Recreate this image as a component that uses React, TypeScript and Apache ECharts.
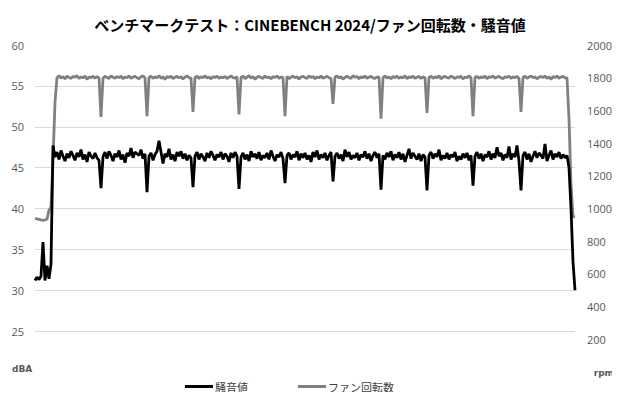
import React, { useEffect, useRef } from "react";
import * as echarts from "echarts";

const TITLE = "ベンチマークテスト：CINEBENCH 2024/ファン回転数・騒音値";
const NOISE_NAME = "騒音値";
const FAN_NAME = "ファン回転数";
const LEFT_UNIT = "dBA";
const RIGHT_UNIT = "rpm";

const noiseValues: number[] = [
  31.2, 31.6, 31.3, 31.7, 35.9, 31.2, 33.0, 31.4, 33.2, 47.7,
  46.3, 46.9, 46.0, 47.1, 46.4, 45.8, 46.7, 46.2, 47.0, 46.5,
  45.9, 46.8, 46.3, 47.2, 46.0, 46.6, 45.7, 46.9, 46.4, 46.1,
  46.8, 46.2, 45.9, 42.5, 46.3, 46.9, 46.1, 47.0, 46.5, 45.8,
  46.7, 46.3, 47.1, 46.0, 46.6, 45.6, 46.8, 46.4, 47.4, 46.2,
  46.9, 46.7, 46.5, 47.2, 46.1, 46.7, 42.0, 46.4, 46.8, 45.9,
  46.6, 47.0, 48.3, 46.9, 45.5, 46.7, 46.3, 47.3, 46.0, 46.6,
  45.8, 46.9, 46.4, 47.0, 46.1, 46.7, 45.9, 46.5, 46.2, 42.6,
  46.4, 46.9, 46.0, 46.7, 46.3, 45.8, 46.8, 46.2, 47.0, 46.5,
  45.9, 46.6, 46.3, 46.9, 46.0, 46.7, 46.4, 45.7, 46.8, 46.2,
  46.9, 46.4, 42.4, 46.3, 46.8, 46.0, 46.6, 45.8, 47.0, 46.3,
  46.7, 46.1, 46.9, 45.9, 46.5, 46.2, 46.8, 46.0, 47.1, 46.4,
  45.8, 46.6, 46.3, 46.9, 46.1, 43.1, 46.5, 46.8, 46.0, 46.6,
  46.3, 47.0, 45.9, 46.7, 46.2, 46.8, 46.0, 46.5, 45.7, 46.9,
  46.3, 47.1, 46.0, 46.6, 46.2, 46.8, 45.9, 46.5, 46.9, 43.3,
  46.4, 46.8, 46.1, 46.6, 45.8, 47.2, 46.3, 46.9, 46.0, 46.5,
  46.2, 46.8, 45.9, 46.6, 46.3, 47.0, 46.1, 46.7, 45.8, 46.5,
  46.9, 46.2, 46.7, 42.3, 46.5, 46.0, 46.8, 46.3, 47.0, 45.9,
  46.6, 46.2, 46.9, 46.0, 46.7, 45.7, 46.5, 47.3, 46.1, 46.8,
  46.4, 46.0, 46.7, 45.8, 46.6, 46.3, 42.2, 46.5, 46.9, 46.1,
  46.7, 46.3, 47.2, 45.9, 46.5, 46.1, 46.8, 46.0, 46.6, 46.3,
  46.9, 45.8, 46.4, 46.0, 46.7, 46.2, 46.8, 45.9, 46.5, 42.8,
  46.4, 46.9, 46.1, 46.7, 45.8, 46.6, 46.3, 47.0, 46.0, 46.7,
  46.2, 47.5, 46.4, 46.8, 45.9, 46.6, 46.2, 47.6, 46.0, 46.7,
  46.3, 47.7, 45.8, 42.2, 46.5, 46.9, 46.0, 46.7, 45.7, 46.4,
  47.0, 46.2, 46.8, 46.5, 46.1, 47.9, 45.8, 46.5, 47.1, 46.0,
  46.7, 46.3, 46.9, 46.1, 46.6, 46.2, 46.5, 45.0, 40.0, 33.5, 30.0,
];

const fanValues: number[] = [
  940, 936, 933, 930, 928, 931, 935, 990, 1010, 1300,
  1650, 1800, 1812, 1798, 1806, 1793, 1810, 1801, 1796, 1808,
  1803, 1812, 1795, 1805, 1799, 1810, 1791, 1804, 1800, 1809,
  1797, 1806, 1800, 1560, 1798, 1808, 1802, 1795, 1811, 1803,
  1797, 1806, 1801, 1810, 1793, 1805, 1799, 1812, 1796, 1804,
  1808, 1800, 1794, 1806, 1811, 1798, 1565, 1803, 1809, 1796,
  1805, 1800, 1812, 1797, 1804, 1790, 1807, 1801, 1810, 1795,
  1803, 1808, 1799, 1806, 1792, 1804, 1811, 1800, 1797, 1590,
  1802, 1809, 1795, 1806, 1800, 1812, 1798, 1804, 1793, 1807,
  1801, 1810, 1796, 1805, 1799, 1808, 1794, 1803, 1811, 1800,
  1797, 1806, 1575, 1801, 1809, 1795, 1804, 1812, 1798, 1806,
  1790, 1803, 1808, 1800, 1796, 1811, 1799, 1805, 1793, 1807,
  1802, 1810, 1797, 1804, 1800, 1565, 1808, 1795, 1803, 1811,
  1799, 1806, 1792, 1804, 1809, 1800, 1796, 1812, 1801, 1807,
  1794, 1805, 1799, 1810, 1797, 1803, 1808, 1800, 1795, 1640,
  1804, 1811, 1798, 1806, 1791, 1802, 1809, 1800, 1796, 1812,
  1803, 1807, 1794, 1805, 1800, 1810, 1797, 1804, 1808, 1799,
  1795, 1806, 1802, 1550, 1800, 1811, 1797, 1805, 1793, 1808,
  1801, 1810, 1796, 1804, 1799, 1812, 1794, 1806, 1800, 1809,
  1797, 1803, 1808, 1795, 1805, 1800, 1585, 1802, 1810, 1796,
  1806, 1799, 1812, 1793, 1804, 1808, 1800, 1797, 1811, 1803,
  1795, 1806, 1801, 1809, 1792, 1804, 1800, 1812, 1798, 1565,
  1803, 1808, 1796, 1805, 1800, 1810, 1794, 1806, 1801, 1811,
  1797, 1804, 1808, 1799, 1793, 1806, 1802, 1810, 1796, 1805,
  1800, 1808, 1795, 1590, 1801, 1809, 1797, 1804, 1811, 1799,
  1806, 1793, 1803, 1808, 1800, 1812, 1796, 1805, 1790, 1807,
  1801, 1810, 1797, 1804, 1808, 1799, 1800, 1550, 1150, 950, 948,
];

const categories: string[] = noiseValues.map((_, i) => String(i));

const LEFT_MIN = 20;
const LEFT_MAX = 60;
const LEFT_STEP = 5;
const RIGHT_MIN = 0;
const RIGHT_MAX = 2000;
const RIGHT_STEP = 200;

const GRID_COLOR = "#d9d9d9";
const LABEL_COLOR = "#595959";
const CJK = "'Noto Sans CJK JP', 'Noto Sans', sans-serif";
const NUM_FONT = "'Open Sans', 'Noto Sans', sans-serif";
const UNIT_FONT = "'DejaVu Sans', sans-serif";

export default function App() {
  const ref = useRef<HTMLDivElement>(null);

  useEffect(() => {
    if (!ref.current) return;
    const chart = echarts.init(ref.current, undefined, { renderer: "svg" });
    const gridColors = [
      "rgba(0,0,0,0)",
      GRID_COLOR, GRID_COLOR, GRID_COLOR, GRID_COLOR, GRID_COLOR, GRID_COLOR, GRID_COLOR,
      "rgba(0,0,0,0)",
    ];
    chart.setOption({
      animation: false,
      backgroundColor: "#ffffff",
      title: {
        text: TITLE,
        left: "center",
        top: 12,
        textStyle: { fontFamily: CJK, fontSize: 15, fontWeight: "bold", color: "#000000" },
      },
      legend: {
        left: 180,
        top: 376,
        itemGap: 50,
        itemWidth: 28,
        itemHeight: 3,
        icon: "rect",
        textStyle: { fontFamily: CJK, fontSize: 11, color: "#404040", padding: [0, 0, 0, -3] },
        data: [NOISE_NAME, FAN_NAME],
      },
      grid: { left: 35, right: 45, top: 45, bottom: 28, containLabel: false },
      xAxis: {
        type: "category",
        data: categories,
        boundaryGap: false,
        axisLine: { show: false },
        axisTick: { show: false },
        axisLabel: { show: false },
        splitLine: { show: false },
      },
      yAxis: [
        {
          type: "value",
          min: LEFT_MIN,
          max: LEFT_MAX,
          interval: LEFT_STEP,
          axisLine: { show: false },
          axisTick: { show: false },
          axisLabel: {
            color: LABEL_COLOR,
            fontFamily: NUM_FONT,
            fontSize: 11,
            margin: 11,
            formatter: (v: number) => (v === LEFT_MIN ? "" : String(v)),
          },
          splitLine: { show: true, lineStyle: { color: gridColors, width: 1 } },
        },
        {
          type: "value",
          min: RIGHT_MIN,
          max: RIGHT_MAX,
          interval: RIGHT_STEP,
          axisLine: { show: false },
          axisTick: { show: false },
          axisLabel: {
            color: LABEL_COLOR,
            fontFamily: NUM_FONT,
            fontSize: 11,
            margin: 12,
            formatter: (v: number) => (v === RIGHT_MIN ? "" : String(v)),
          },
          splitLine: { show: false },
        },
      ],
      graphic: [
        {
          type: "text",
          left: 12,
          top: 364,
          style: { text: LEFT_UNIT, fill: LABEL_COLOR, font: `bold 9px ${UNIT_FONT}` },
        },
        {
          type: "text",
          right: 6,
          top: 368,
          style: { text: RIGHT_UNIT, fill: LABEL_COLOR, font: `bold 9px ${UNIT_FONT}` },
        },
      ],
      series: [
        {
          name: NOISE_NAME,
          type: "line",
          yAxisIndex: 0,
          data: noiseValues,
          showSymbol: false,
          symbol: "none",
          lineStyle: { color: "#000000", width: 2.8 },
          itemStyle: { color: "#000000" },
          z: 3,
        },
        {
          name: FAN_NAME,
          type: "line",
          yAxisIndex: 1,
          data: fanValues,
          showSymbol: false,
          symbol: "none",
          lineStyle: { color: "#808080", width: 2.8 },
          itemStyle: { color: "#808080" },
          z: 2,
        },
      ],
    });
    return () => chart.dispose();
  }, []);

  return <div ref={ref} style={{ width: 620, height: 400, margin: -8 }} />;
}
